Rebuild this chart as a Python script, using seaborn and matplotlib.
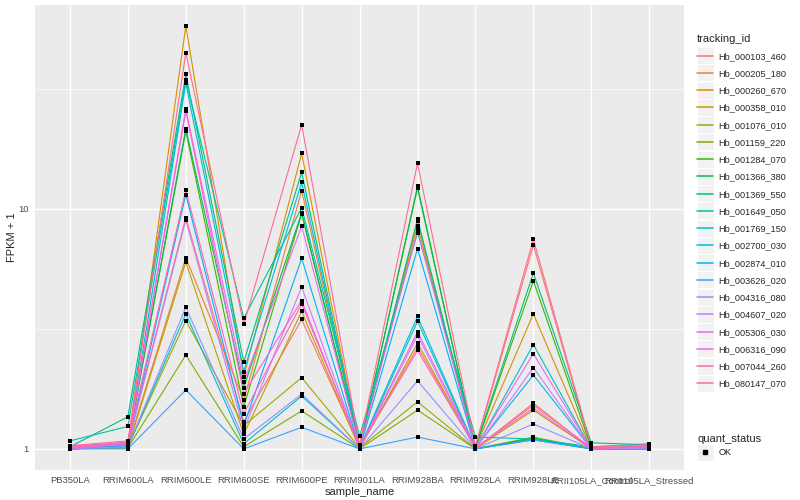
import pandas as pd
import seaborn as sns
import matplotlib.pyplot as plt
from matplotlib.lines import Line2D
from matplotlib.patches import Rectangle
from matplotlib.ticker import FixedLocator, NullFormatter

# samples (x axis order)
samples = ['PB350LA', 'RRIM600LA', 'RRIM600LE', 'RRIM600SE', 'RRIM600PE', 'RRIM901LA',
           'RRIM928BA', 'RRIM928LA', 'RRIM928LE', 'RRII105LA_Control', 'RRII105LA_Stressed']

# FPKM + 1 per gene
hb_000103_460 = [1.03, 1.06, 9.2, 1.30, 3.46, 1.02, 2.65, 1.02, 7.07, 1.01, 1.03]
hb_000205_180 = [1.00, 1.03, 6.26, 1.60, 11.9, 1.01, 8.91, 1.00, 1.55, 1.00, 1.02]
hb_000260_670 = [1.01, 1.04, 57.8, 2.00, 17.0, 1.02, 8.51, 1.01, 3.65, 1.00, 1.01]
hb_000358_010 = [1.00, 1.01, 6.0, 1.15, 3.74, 1.00, 2.76, 1.00, 1.45, 1.00, 1.00]
hb_001076_010 = [1.00, 1.02, 3.42, 1.25, 1.98, 1.01, 1.57, 1.00, 1.12, 1.00, 1.02]
hb_001159_220 = [1.00, 1.01, 2.46, 1.02, 1.44, 1.00, 1.45, 1.00, 1.10, 1.00, 1.00]
hb_001284_070 = [1.01, 1.05, 21.0, 1.50, 9.53, 1.02, 12.2, 1.01, 5.01, 1.01, 1.01]
hb_001366_380 = [1.00, 1.04, 21.6, 1.80, 9.62, 1.01, 12.4, 1.00, 1.11, 1.00, 1.03]
hb_001369_550 = [1.02, 1.36, 36.3, 2.30, 14.2, 1.02, 9.08, 1.02, 5.40, 1.06, 1.04]
hb_001649_050 = [1.08, 1.24, 34.5, 3.50, 10.1, 1.13, 7.96, 1.12, 1.10, 1.02, 1.05]
hb_001769_150 = [1.00, 1.02, 3.65, 1.05, 1.66, 1.00, 3.40, 1.00, 2.72, 1.00, 1.00]
hb_002700_030 = [1.01, 1.05, 33.4, 2.10, 12.9, 1.01, 3.56, 1.01, 2.03, 1.00, 1.01]
hb_002874_010 = [1.00, 1.03, 11.47, 1.25, 6.22, 1.00, 6.82, 1.00, 1.09, 1.00, 1.00]
hb_003626_020 = [1.00, 1.00, 1.76, 1.00, 1.23, 1.00, 1.12, 1.00, 1.09, 1.00, 1.00]
hb_004316_080 = [1.00, 1.02, 3.89, 1.10, 1.69, 1.00, 1.92, 1.00, 1.27, 1.00, 1.01]
hb_004607_020 = [1.01, 1.04, 8.99, 1.20, 4.72, 1.01, 2.96, 1.00, 2.18, 1.00, 1.01]
hb_005306_030 = [1.00, 1.06, 26.0, 1.90, 8.47, 1.02, 8.14, 1.01, 2.49, 1.00, 1.02]
hb_006316_090 = [1.02, 1.05, 25.5, 1.70, 4.15, 1.01, 3.07, 1.01, 1.52, 1.01, 1.02]
hb_007044_260 = [1.01, 1.07, 11.97, 1.40, 4.02, 1.02, 2.57, 1.01, 1.48, 1.00, 1.03]
hb_080147_070 = [1.03, 1.08, 44.7, 3.30, 22.4, 1.04, 15.5, 1.03, 7.47, 1.02, 1.04]

tracking_ids = ['Hb_000103_460', 'Hb_000205_180', 'Hb_000260_670', 'Hb_000358_010',
                'Hb_001076_010', 'Hb_001159_220', 'Hb_001284_070', 'Hb_001366_380',
                'Hb_001369_550', 'Hb_001649_050', 'Hb_001769_150', 'Hb_002700_030',
                'Hb_002874_010', 'Hb_003626_020', 'Hb_004316_080', 'Hb_004607_020',
                'Hb_005306_030', 'Hb_006316_090', 'Hb_007044_260', 'Hb_080147_070']
gene_values = [hb_000103_460, hb_000205_180, hb_000260_670, hb_000358_010,
               hb_001076_010, hb_001159_220, hb_001284_070, hb_001366_380,
               hb_001369_550, hb_001649_050, hb_001769_150, hb_002700_030,
               hb_002874_010, hb_003626_020, hb_004316_080, hb_004607_020,
               hb_005306_030, hb_006316_090, hb_007044_260, hb_080147_070]

# ggplot2 default hue palette for 20 levels
colors = ['#F8766D', '#EA8331', '#D89000', '#C09B00', '#A3A500', '#7CAE00', '#39B600',
          '#00BB4E', '#00BF7D', '#00C1A3', '#00BFC4', '#00BAE0', '#00B0F6', '#35A2FF',
          '#9590FF', '#C77CFF', '#E76BF3', '#FA62DB', '#FF62BC', '#FF6C91']

rows = []
for tid, vals in zip(tracking_ids, gene_values):
    for s, v in zip(samples, vals):
        rows.append({'tracking_id': tid, 'sample_name': s, 'fpkm': v, 'quant_status': 'OK'})
df = pd.DataFrame(rows)
df['x'] = df['sample_name'].map({s: i for i, s in enumerate(samples)})

sns.set_style('darkgrid', {'axes.facecolor': '#EBEBEB', 'grid.color': 'white'})
plt.rcParams['font.family'] = ['Liberation Sans', 'DejaVu Sans']

fig = plt.figure(figsize=(8, 5), dpi=100)
ax = fig.add_axes([0.044, 0.06, 0.811, 0.93])

sns.lineplot(data=df, x='x', y='fpkm', hue='tracking_id', hue_order=tracking_ids,
             palette=colors, sort=False, linewidth=0.8, legend=False, ax=ax)
sns.scatterplot(data=df, x='x', y='fpkm', color='black', marker='s', s=6,
                linewidth=0, legend=False, ax=ax, zorder=5)

ax.set_yscale('log')
ax.set_ylim(10 ** -0.088, 10 ** 1.849)
ax.set_xlim(-0.6, len(samples) - 1 + 0.6)
ax.yaxis.set_major_locator(FixedLocator([1, 10]))
ax.set_yticklabels(['1', '10'])
ax.yaxis.set_minor_locator(FixedLocator([10 ** 0.5, 10 ** 1.5]))
ax.yaxis.set_minor_formatter(NullFormatter())
ax.set_xticks(range(len(samples)))
ax.set_xticklabels(samples)

ax.grid(which='major', color='white', linewidth=1.0)
ax.grid(which='minor', axis='y', color='white', linewidth=0.5)
ax.tick_params(axis='both', which='major', length=3, width=0.8, color='#333333',
               labelsize=6.8, labelcolor='#4D4D4D', pad=1.5)
ax.tick_params(axis='y', which='minor', length=0)
for sp in ax.spines.values():
    sp.set_visible(False)

ax.set_xlabel('sample_name', fontsize=8, labelpad=1)
ax.set_ylabel('FPKM + 1', fontsize=8, labelpad=1)

# legends
line_handles = [Line2D([0], [0], color=c, lw=1.1) for c in colors]
leg1 = fig.legend(line_handles, tracking_ids, title='tracking_id', loc='upper left',
                  bbox_to_anchor=(0.867, 0.94), frameon=False, fontsize=6.6,
                  title_fontsize=8, handlelength=1.7, labelspacing=0.9,
                  handletextpad=0.6, borderaxespad=0)
leg1._legend_box.align = 'left'

pt_handle = [Line2D([0], [0], color='black', marker='s', markersize=2.5, lw=0)]
leg2 = fig.legend(pt_handle, ['OK'], title='quant_status', loc='upper left',
                  bbox_to_anchor=(0.867, 0.14), frameon=False, fontsize=6.6,
                  title_fontsize=8, handlelength=1.7, handletextpad=0.6, borderaxespad=0)
leg2._legend_box.align = 'left'

# grey key backgrounds like ggplot
fig.canvas.draw()
inv = fig.transFigure.inverted()
for leg in (leg1, leg2):
    for h in leg.legend_handles:
        bb = h.get_window_extent()
        cx, cy = (bb.x0 + bb.x1) / 2, (bb.y0 + bb.y1) / 2
        (x0, y0) = inv.transform((cx - 8.5, cy - 8.5))
        (x1, y1) = inv.transform((cx + 8.5, cy + 8.5))
        fig.patches.append(Rectangle((x0, y0), x1 - x0, y1 - y0, transform=fig.transFigure,
                                     facecolor='#F2F2F2', edgecolor='white', lw=0.8,
                                     zorder=0))

plt.savefig('out.png', dpi=100)
